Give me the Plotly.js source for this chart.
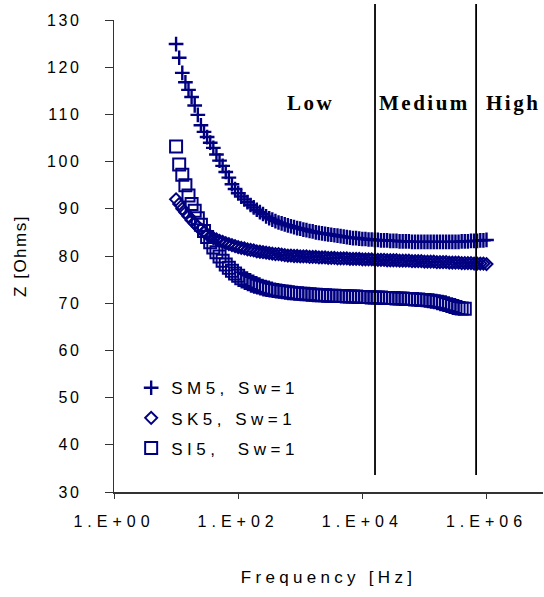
<!DOCTYPE html>
<html>
<head>
<meta charset="utf-8">
<script src="https://cdn.plot.ly/plotly-3.0.1.min.js"></script>
<style>
  html, body { margin: 0; padding: 0; background: #fff; overflow: hidden; }
  #chart { width: 544px; height: 597px; }
  .xtick text { letter-spacing: 5px; }
  .ytick text { letter-spacing: 2.5px; }
  .legendtext { letter-spacing: 4.5px; }
  .g-xtitle text { letter-spacing: 4.3px; }
  .g-ytitle text { letter-spacing: 1.5px; }
  .annotation-text { letter-spacing: 2.5px; }
</style>
</head>
<body>
<div id="chart"></div>
<script>
// Frequency sweep [Hz]
const freqHz = [
  10, 11.22, 12.59, 14.13, 15.85, 17.78, 19.95, 22.39, 25.12, 28.18,
  31.62, 35.48, 39.81, 44.67, 50.12, 56.23, 63.1, 70.79, 79.43, 89.13,
  100, 112.2, 125.9, 141.3, 158.5, 177.8, 199.5, 223.9, 251.2, 281.8,
  316.2, 354.8, 398.1, 446.7, 501.2, 562.3, 631, 707.9, 794.3, 891.3,
  1000, 1122, 1259, 1413, 1585, 1778, 1995, 2239, 2512, 2818,
  3162, 3548, 3981, 4467, 5012, 5623, 6310, 7079, 7943, 8913,
  10000, 11220, 12590, 14130, 15850, 17780, 19950, 22390, 25120, 28180,
  31620, 35480, 39810, 44670, 50120, 56230, 63100, 70790, 79430, 89130,
  100000, 112200, 125900, 141300, 158500, 177800, 199500, 223900, 251200, 281800,
  316200, 354800, 398100, 446700, 501200, 562300, 631000, 707900, 794300, 891300,
  1000000
];

// Impedance Z [Ohms]
const zSM5 = [
  124.9, 122.0, 118.8, 116.8, 115.2, 113.7, 111.9, 109.9, 107.7, 106.3,
  105.2, 104.0, 102.9, 101.5, 100.2, 99.1, 97.8, 96.6, 95.2, 94.2,
  93.3, 92.6, 92.0, 91.4, 90.8, 90.3, 89.8, 89.3, 88.9, 88.4,
  88.0, 87.7, 87.4, 87.1, 86.9, 86.7, 86.5, 86.3, 86.1, 85.9,
  85.8, 85.6, 85.5, 85.3, 85.2, 85.0, 84.9, 84.8, 84.7, 84.6,
  84.5, 84.4, 84.3, 84.2, 84.1, 84.0, 83.9, 83.8, 83.8, 83.7,
  83.6, 83.6, 83.5, 83.5, 83.4, 83.4, 83.3, 83.3, 83.3, 83.2,
  83.2, 83.2, 83.1, 83.1, 83.1, 83.1, 83.0, 83.0, 83.0, 83.0,
  83.0, 83.0, 83.0, 83.0, 83.0, 83.0, 83.0, 83.0, 83.0, 83.0,
  83.0, 83.0, 83.1, 83.1, 83.1, 83.2, 83.2, 83.2, 83.3, 83.3,
  83.4
];
const zSK5 = [
  92.0, 91.0, 90.0, 89.2, 88.4, 87.6, 86.9, 86.2, 85.6, 85.1,
  84.6, 84.2, 83.8, 83.5, 83.2, 83.0, 82.7, 82.5, 82.3, 82.1,
  81.9, 81.7, 81.6, 81.4, 81.3, 81.2, 81.0, 80.9, 80.8, 80.7,
  80.6, 80.5, 80.4, 80.4, 80.3, 80.2, 80.1, 80.1, 80.0, 80.0,
  79.9, 79.9, 79.9, 79.8, 79.8, 79.8, 79.7, 79.7, 79.7, 79.6,
  79.6, 79.6, 79.5, 79.5, 79.5, 79.5, 79.4, 79.4, 79.4, 79.4,
  79.3, 79.3, 79.3, 79.3, 79.2, 79.2, 79.2, 79.2, 79.1, 79.1,
  79.1, 79.1, 79.0, 79.0, 79.0, 79.0, 78.9, 78.9, 78.9, 78.9,
  78.8, 78.8, 78.8, 78.8, 78.7, 78.7, 78.7, 78.7, 78.6, 78.6,
  78.6, 78.6, 78.5, 78.5, 78.5, 78.5, 78.4, 78.4, 78.4, 78.4,
  78.3
];
const zSI5 = [
  103.2, 99.4, 97.2, 95.0, 92.8, 91.0, 89.6, 88.0, 86.6, 85.3,
  84.0, 82.9, 81.8, 80.8, 79.9, 79.0, 78.2, 77.5, 76.9, 76.3,
  75.8, 75.3, 74.9, 74.6, 74.3, 74.0, 73.7, 73.5, 73.3, 73.1,
  72.9, 72.8, 72.7, 72.6, 72.5, 72.4, 72.3, 72.2, 72.1, 72.1,
  72.0, 72.0, 71.9, 71.9, 71.8, 71.8, 71.7, 71.7, 71.7, 71.6,
  71.6, 71.6, 71.5, 71.5, 71.5, 71.4, 71.4, 71.4, 71.4, 71.3,
  71.3, 71.3, 71.3, 71.2, 71.2, 71.2, 71.2, 71.1, 71.1, 71.1,
  71.1, 71.0, 71.0, 71.0, 70.9, 70.9, 70.9, 70.8, 70.8, 70.7,
  70.7, 70.6, 70.5, 70.4, 70.3, 70.2, 70.0, 69.8, 69.6, 69.4,
  69.2, 69.0, 68.9, 68.8
];

const seriesNames = ['SM5, Sw=1', 'SK5, Sw=1', 'SI5,  Sw=1'];
const xTickVals = [1, 100, 10000, 1000000];
const xTickText = ['1.E+00', '1.E+02', '1.E+04', '1.E+06'];
const yTickVals = [30, 40, 50, 60, 70, 80, 90, 100, 110, 120, 130];

// Frequency band boundaries [Hz] and band labels
const bandBounds = [16000, 680000];
const bandLabels = ['Low', 'Medium', 'High'];
const bandLabelFreq = [1450, 100000, 2700000];
const bandLabelZ = 112.4;

const navy = '#000080';
const traces = [
  { x: freqHz.slice(0, zSM5.length), y: zSM5, name: seriesNames[0], legendgroup: 'a',
    type: 'scatter', mode: 'markers',
    marker: { symbol: 'cross-thin-open', size: 10.5, color: navy, line: { color: navy, width: 2.4 } } },
  { x: freqHz.slice(0, zSK5.length), y: zSK5, name: seriesNames[1], legendgroup: 'b',
    type: 'scatter', mode: 'markers',
    marker: { symbol: 'diamond-open', size: 9.2, color: navy, line: { color: navy, width: 2 } } },
  { x: freqHz.slice(0, zSI5.length), y: zSI5, name: seriesNames[2], legendgroup: 'c',
    type: 'scatter', mode: 'markers',
    marker: { symbol: 'square-open', size: 12, color: navy, line: { color: navy, width: 2 } } }
];

const shapes = bandBounds.map(f => ({
  type: 'line', xref: 'x', yref: 'paper', x0: f, x1: f, y0: 0.036, y1: 1.034,
  line: { color: '#000', width: 1.8 }
}));

const annotations = bandLabels.map((t, i) => ({
  text: '<b>' + t + '</b>', xref: 'x', yref: 'y',
  x: Math.log10(bandLabelFreq[i]), y: bandLabelZ, showarrow: false,
  font: { family: 'Liberation Serif, Times New Roman, serif', size: 21, color: '#000' }
}));

const layout = {
  width: 544, height: 597,
  margin: { l: 114, r: 1, t: 20, b: 105 },
  paper_bgcolor: '#fff', plot_bgcolor: '#fff',
  font: { family: 'Liberation Sans, Arial, sans-serif', color: '#000' },
  showlegend: true,
  legend: {
    x: 0.04, y: 0.258, xanchor: 'left', yanchor: 'top',
    bgcolor: 'rgba(0,0,0,0)', borderwidth: 0,
    font: { size: 17, color: '#000' }, tracegroupgap: 5, traceorder: 'grouped'
  },
  xaxis: {
    type: 'log', range: [0, 6.91], showgrid: false, zeroline: false,
    showline: true, linecolor: '#333', linewidth: 1.5,
    ticks: 'outside', ticklen: 5, tickcolor: '#333', tickwidth: 1,
    tickvals: xTickVals, ticktext: xTickText, ticklabelstandoff: 9,
    tickfont: { size: 16, color: '#000' },
    title: { text: 'Frequency [Hz]', font: { size: 17, color: '#000' }, standoff: 42 }
  },
  yaxis: {
    range: [30, 130], showgrid: false, zeroline: false,
    showline: true, linecolor: '#333', linewidth: 1.5,
    ticks: 'outside', ticklen: 8, tickcolor: '#333', tickwidth: 1,
    tickvals: yTickVals, ticklabelstandoff: 20,
    tickfont: { size: 16, color: '#000' },
    title: { text: 'Z [Ohms]', font: { size: 17, color: '#000' }, standoff: 16 }
  },
  shapes: shapes,
  annotations: annotations
};

Plotly.newPlot('chart', traces, layout, { staticPlot: true, displayModeBar: false });
</script>
</body>
</html>
